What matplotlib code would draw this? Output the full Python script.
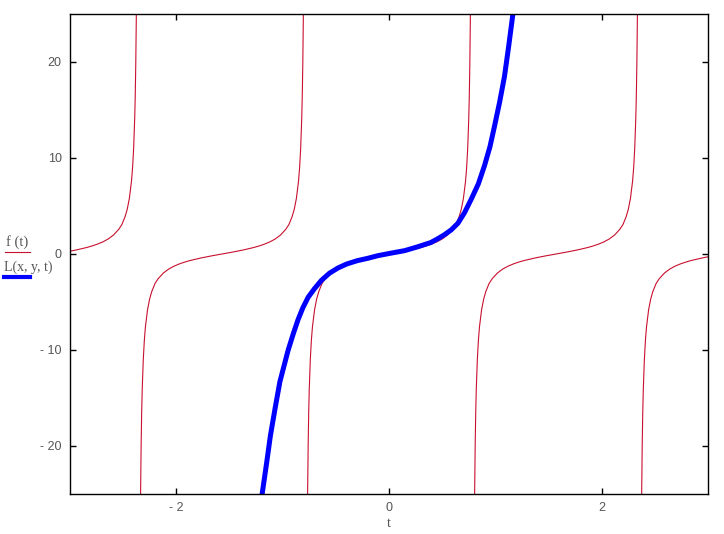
import matplotlib
matplotlib.use("Agg")
import matplotlib.pyplot as plt
from matplotlib.lines import Line2D

# f(t): one branch profile (offset from branch centre, value),
# repeated at each branch centre
branch_centres = [-3.1416, -1.5708, 0.0, 1.5708, 3.1416]
branch_d = [0.0, 0.05, 0.1, 0.15, 0.2, 0.25, 0.3, 0.35, 0.4, 0.45, 0.5, 0.55,
            0.6, 0.63, 0.66, 0.68, 0.70, 0.72, 0.73, 0.74, 0.75, 0.755, 0.76,
            0.765, 0.77, 0.775]
branch_y = [0.0, 0.10, 0.20, 0.31, 0.42, 0.55, 0.68, 0.84, 1.03, 1.26, 1.56,
            1.97, 2.57, 3.08, 3.90, 4.67, 5.80, 7.60, 8.98, 10.98, 14.1, 16.4,
            19.7, 24.5, 32.4, 48.0]

# L(x, y, t)
L_t = [-1.22, -1.193, -1.15, -1.115, -1.07, -1.026, -0.948, -0.90, -0.854,
       -0.81, -0.76, -0.70, -0.636, -0.56, -0.479, -0.40, -0.30, -0.20,
       -0.103, 0.0, 0.147, 0.27, 0.394, 0.46, 0.52, 0.584, 0.648, 0.71,
       0.773, 0.84, 0.898, 0.95, 0.992, 1.04, 1.086, 1.125, 1.164, 1.19]
L_y = [-27.5, -25.0, -21.7, -18.9, -16.0, -13.3, -10.0, -8.3, -6.8,
       -5.6, -4.5, -3.6, -2.75, -2.0, -1.45, -1.05, -0.7, -0.45,
       -0.17, 0.05, 0.35, 0.75, 1.2, 1.6, 2.0, 2.5, 3.2, 4.3,
       5.7, 7.3, 9.2, 11.2, 13.3, 15.8, 18.5, 21.6, 24.9, 27.5]

xticks = [-2, 0, 2]
xtick_labels = ["- 2", "0", "2"]
yticks = [-20, -10, 0, 10, 20]
ytick_labels = ["- 20", "- 10", "0", "10", "20"]

red = "#c8102e"
blue = "#0000ff"
txt = "#555555"

fig = plt.figure(figsize=(7.24, 5.34), dpi=100)
ax = fig.add_axes([70 / 724, 1 - 494 / 534, 638 / 724, 480 / 534])

# full profile: negative side mirrors the positive one
d_full = [-d for d in branch_d[::-1]] + branch_d[1:]
y_full = [-v for v in branch_y[::-1]] + branch_y[1:]
for c in branch_centres:
    ax.plot([c + d for d in d_full], y_full, color=red, lw=0.8)

ax.plot(L_t, L_y, color=blue, lw=3.6, solid_capstyle="round",
        solid_joinstyle="round")

ax.set_xlim(-3, 3)
ax.set_ylim(-25, 25)
ax.set_xticks(xticks)
ax.set_xticklabels(xtick_labels)
ax.set_yticks(yticks)
ax.set_yticklabels(ytick_labels)
ax.tick_params(direction="in", length=4, width=1, top=True, right=True,
               labelsize=9, labelcolor=txt, pad=6)
for lab in ax.get_xticklabels() + ax.get_yticklabels():
    lab.set_family("Liberation Sans")
for s in ax.spines.values():
    s.set_linewidth(1)
    s.set_color("black")

ax.set_xlabel("t", family="Liberation Serif", fontsize=10.5, color=txt,
              labelpad=2)

# legend on the left, Mathcad style
fig.text(6 / 724, 1 - 246 / 534, "f (t)", family="Liberation Serif",
         fontsize=10.5, color=txt)
fig.add_artist(Line2D([5 / 724, 30 / 724], [1 - 252 / 534, 1 - 252 / 534],
                      color=red, lw=0.8))
fig.text(4 / 724, 1 - 271 / 534, "L(x, y, t)", family="Liberation Serif",
         fontsize=10, color=txt)
fig.add_artist(Line2D([4 / 724, 30 / 724], [1 - 277 / 534, 1 - 277 / 534],
                      color=blue, lw=3.0))

fig.savefig("out.png", dpi=100)
